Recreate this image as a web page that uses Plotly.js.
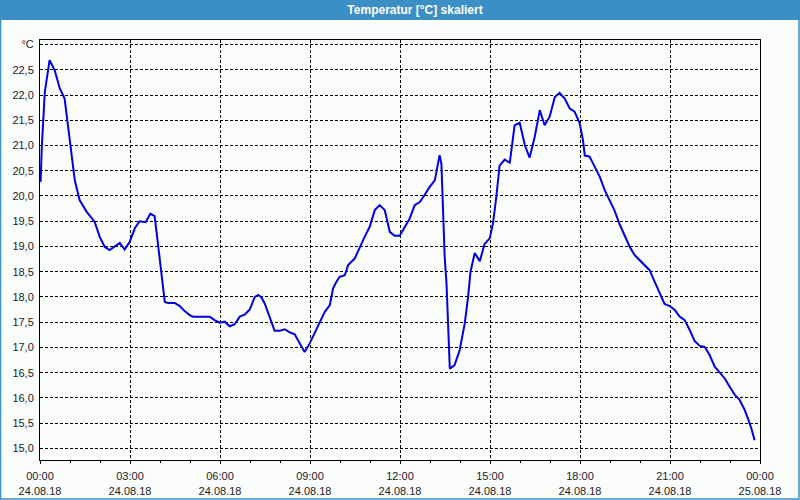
<!DOCTYPE html>
<html>
<head>
<meta charset="utf-8">
<script src="https://cdn.plot.ly/plotly-3.0.1.min.js"></script>
<style>html,body{margin:0;padding:0;background:#fbfdfb;}#chart{width:800px;height:500px;}</style>
</head>
<body>
<div id="chart"></div>
<script>
// Time in hours since 24.08.18 00:00
const hours = [0.02,0.06,0.16,0.32,0.49,0.66,0.82,0.99,1.16,1.32,1.55,1.82,1.99,2.16,2.32,2.66,2.82,2.99,3.16,3.32,3.52,3.68,3.82,3.93,4.05,4.16,4.27,4.49,4.66,4.82,4.99,5.10,5.66,5.82,5.99,6.16,6.32,6.49,6.66,6.82,6.99,7.16,7.28,7.38,7.49,7.66,7.82,7.99,8.16,8.32,8.49,8.66,8.82,8.99,9.16,9.32,9.49,9.66,9.77,9.88,9.99,10.16,10.27,10.49,10.66,10.82,10.99,11.16,11.32,11.49,11.66,11.82,11.99,12.16,12.32,12.49,12.66,12.82,12.99,13.16,13.27,13.32,13.38,13.43,13.49,13.55,13.60,13.66,13.82,13.99,14.16,14.27,14.35,14.49,14.66,14.82,14.99,15.10,15.21,15.32,15.49,15.66,15.82,15.99,16.16,16.32,16.49,16.66,16.82,16.99,17.16,17.32,17.49,17.66,17.82,17.99,18.10,18.16,18.32,18.49,18.66,18.82,18.99,19.16,19.32,19.49,19.66,19.82,19.99,20.16,20.32,20.49,20.66,20.82,20.99,21.16,21.32,21.49,21.66,21.82,21.99,22.16,22.32,22.49,22.66,22.82,22.99,23.16,23.32,23.49,23.60,23.71,23.82];
const temps = [20.28,20.97,22.06,22.69,22.49,22.13,21.93,21.17,20.31,19.92,19.69,19.49,19.19,18.99,18.93,19.07,18.94,19.09,19.36,19.50,19.48,19.65,19.60,19.06,18.47,17.90,17.88,17.88,17.82,17.72,17.64,17.61,17.61,17.54,17.49,17.51,17.42,17.46,17.61,17.65,17.75,18.00,18.04,17.99,17.87,17.57,17.33,17.33,17.36,17.30,17.26,17.08,16.91,17.08,17.28,17.49,17.70,17.84,18.17,18.30,18.40,18.43,18.63,18.76,18.99,19.19,19.39,19.72,19.82,19.72,19.29,19.21,19.21,19.39,19.55,19.82,19.88,20.02,20.18,20.31,20.64,20.81,20.64,19.59,18.79,18.27,17.48,16.58,16.65,16.95,17.48,18.00,18.50,18.87,18.71,19.05,19.16,19.46,19.98,20.60,20.72,20.66,21.40,21.45,21.01,20.76,21.17,21.70,21.40,21.57,21.96,22.04,21.93,21.73,21.67,21.44,21.10,20.80,20.78,20.58,20.38,20.12,19.90,19.70,19.44,19.22,18.99,18.83,18.73,18.63,18.53,18.30,18.07,17.86,17.82,17.74,17.61,17.54,17.34,17.13,17.03,17.01,16.85,16.62,16.50,16.39,16.22,16.06,15.96,15.76,15.59,15.40,15.16];

const xTickVals = [0,3,6,9,12,15,18,21,24];
const xTickText = ['00:00<br>24.08.18','03:00<br>24.08.18','06:00<br>24.08.18','09:00<br>24.08.18','12:00<br>24.08.18','15:00<br>24.08.18','18:00<br>24.08.18','21:00<br>24.08.18','00:00<br>25.08.18'];
const yTickVals = [15,15.5,16,16.5,17,17.5,18,18.5,19,19.5,20,20.5,21,21.5,22,22.5,23];
const yTickText = ['15,0','15,5','16,0','16,5','17,0','17,5','18,0','18,5','19,0','19,5','20,0','20,5','21,0','21,5','22,0','22,5','°C'];
const chartTitle = 'Temperatur [°C] skaliert';

const W = 800, H = 500, ml = 40, mr = 40, mt = 40, mb = 40;
const pw = W - ml - mr, ph = H - mt - mb;
const px = v => (v - ml) / pw;           // pixel x -> paper
const py = v => (H - mb - v) / ph;       // pixel y -> paper

const font = 'Liberation Sans, Arial, sans-serif';
const gridStyle = {color: '#000', dash: '3px,2px'};

const trace = {
  x: hours, y: temps, type: 'scatter', mode: 'lines',
  line: {color: '#0000e6', width: 2}, hoverinfo: 'skip'
};

const layout = {
  width: W, height: H,
  margin: {l: ml, r: mr, t: mt, b: mb, pad: 0},
  paper_bgcolor: '#fbfdfb', plot_bgcolor: '#fbfdfb',
  showlegend: false,
  title: {text: '<b>' + chartTitle + '</b>', font: {family: font, size: 12, color: '#ffffff'},
          x: 415 / W, xanchor: 'center', xref: 'container', y: 1 - 10 / H, yanchor: 'middle', yref: 'container'},
  xaxis: {
    range: [0, 24], tickmode: 'array', tickvals: xTickVals, ticktext: xTickText,
    showgrid: true, gridcolor: gridStyle.color, griddash: gridStyle.dash, gridwidth: 1,
    showline: true, linecolor: '#000', linewidth: 1, mirror: true,
    ticks: 'outside', ticklen: 3, tickcolor: '#000', tickwidth: 1,
    minor: {dtick: 1, tick0: 0, ticks: 'outside', ticklen: 2, tickcolor: '#000', showgrid: false},
    tickfont: {family: font, size: 11, color: '#1a1a2a'}, ticklabelstandoff: 3,
    zeroline: false, fixedrange: true, automargin: false
  },
  yaxis: {
    range: [14.77, 23.09], tickmode: 'array', tickvals: yTickVals, ticktext: yTickText,
    showgrid: true, gridcolor: gridStyle.color, griddash: gridStyle.dash, gridwidth: 1,
    showline: true, linecolor: '#000', linewidth: 1, mirror: true,
    ticks: '', tickfont: {family: font, size: 11, color: '#1a1a2a'}, ticklabelstandoff: 3,
    zeroline: false, fixedrange: true, automargin: false
  },
  shapes: [
    {type: 'rect', xref: 'paper', yref: 'paper', x0: px(0), x1: px(W), y0: py(20), y1: py(0),
     fillcolor: '#3b8fc5', line: {width: 0}, layer: 'below'},
    {type: 'rect', xref: 'paper', yref: 'paper', x0: px(0.5), x1: px(799), y0: py(499), y1: py(0.5),
     fillcolor: 'rgba(0,0,0,0)', line: {width: 1.5, color: '#3b8fc5'}, layer: 'above'}
  ]
};

Plotly.newPlot('chart', [trace], layout, {displayModeBar: false, staticPlot: true});
</script>
</body>
</html>
